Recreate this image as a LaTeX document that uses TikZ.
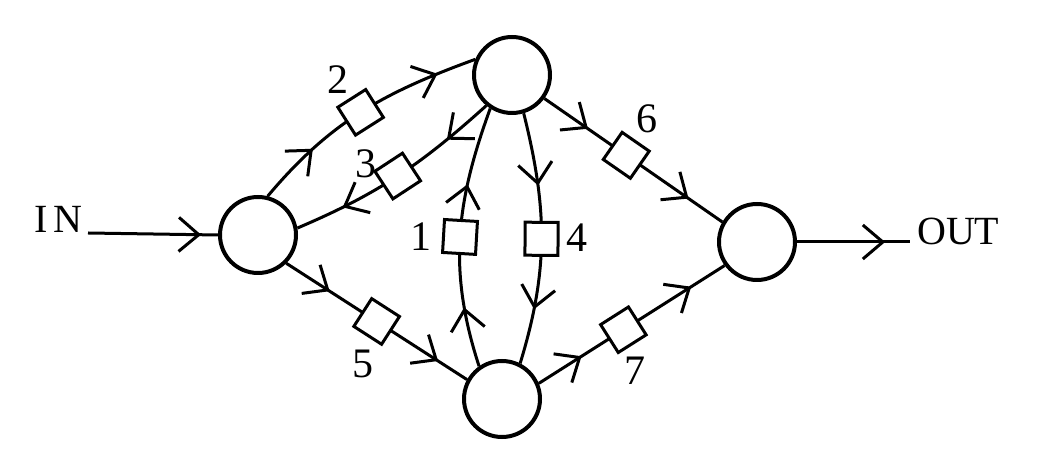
\documentclass[tikz,border=0pt]{standalone}
\usepackage{fontspec}
\setmainfont{Liberation Serif}
\usetikzlibrary{arrows.meta,decorations.markings}
\tikzset{
  myb/.tip={Straight Barb[length=20pt,width=34pt]},
  circ/.style={circle, draw, line width=4pt, minimum size=76pt, inner sep=0pt},
  sq/.style={rectangle, draw, fill=white, line width=3pt, minimum size=33pt, inner sep=0pt, sloped},
  conn/.style={line width=3pt},
  barbs/.style 2 args={postaction={decorate}, decoration={markings,
      mark=at position #1 with {\arrow{myb}},
      mark=at position #2 with {\arrow{myb}}}},
  onebarb/.style={postaction={decorate}, decoration={markings,
      mark=at position #1 with {\arrow{myb}}}},
  lbl/.style={font=\fontsize{42}{44}\selectfont, inner sep=0pt},
  txt/.style={font=\fontsize{40}{42}\selectfont, inner sep=0pt}
}
\begin{document}
\begin{tikzpicture}[x=1pt,y=1pt]
\useasboundingbox (0,0) rectangle (1038,476);
\node[circ] (L) at (258,241) {};
\node[circ] (T) at (512,401) {};
\node[circ] (B) at (502,77) {};
\node[circ] (R) at (757,234) {};

\node[txt, anchor=base east, inner xsep=5pt] (in) at (88,243) {I\kern6pt N};
\node[txt, anchor=base west] (out) at (917,231) {OUT};
\coordinate (oe) at (910,234);

\draw[conn, onebarb=0.87] (in.base east) -- (L.west);
\draw[conn, onebarb=0.78] (R.east) -- (oe);

\draw[conn, barbs={0.26}{0.84}] (L.76) to[out=50, in=200] node[sq] (s2) {} (T.157);
\draw[conn, barbs={0.23}{0.78}] (T.230) to[out=222, in=23] node[sq] (s3) {} (L.10);
\draw[conn, barbs={0.23}{0.70}] (B.125) to[out=108, in=250] node[sq] (s1) {} (T.237);
\draw[conn, barbs={0.29}{0.78}] (T.287) to[out=284, in=73] node[sq] (s4) {} (B.63);
\draw[conn, barbs={0.24}{0.84}] (L.315) -- node[sq] (s5) {} (B.151);
\draw[conn, barbs={0.245}{0.81}] (T.324) -- node[sq, pos=0.46] (s6) {} (R.150);
\draw[conn, barbs={0.23}{0.82}] (B.23) -- node[sq, pos=0.455] (s7) {} (R.216);

\node[lbl] (l2) at (338,396) {2};
\node[lbl] (l3) at (366,312) {3};
\node[lbl] (l1) at (421,239) {1};
\node[lbl] (l4) at (577,238) {4};
\node[lbl] (l5) at (363,112) {5};
\node[lbl] (l6) at (647,357) {6};
\node[lbl] (l7) at (635,105) {7};
\end{tikzpicture}
\end{document}
